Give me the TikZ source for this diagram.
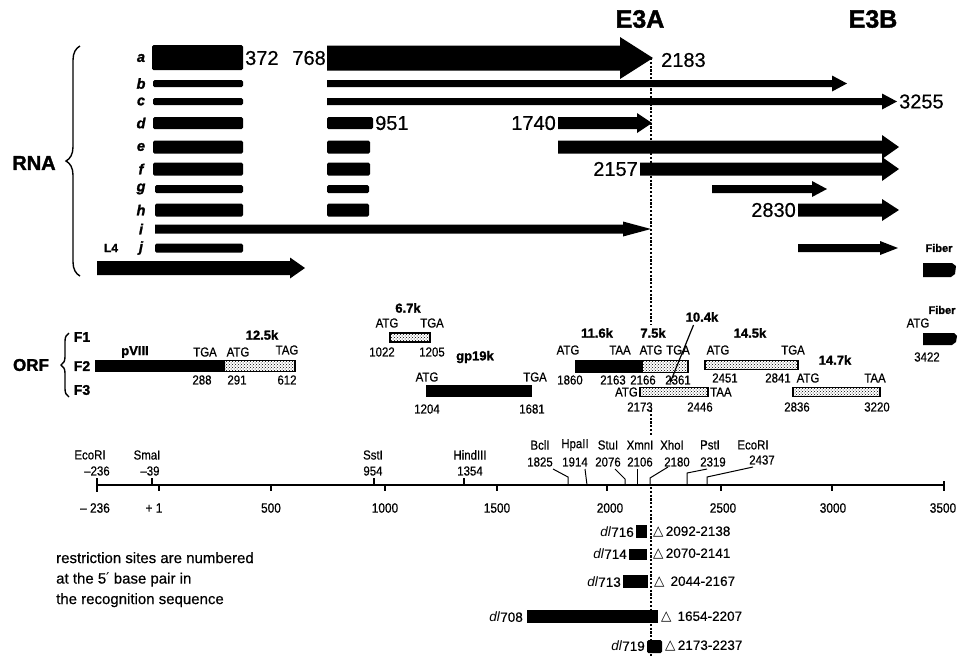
\documentclass[tikz,border=0pt]{standalone}
\usepackage{fontspec}
\setmainfont{Liberation Sans}[UprightFeatures={FakeBold=0.5},BoldFeatures={FakeBold=1.5},BoldItalicFeatures={FakeBold=1.5}]
\newfontfamily\lab{Liberation Sans}[FakeStretch=0.88,FakeBold=0.6]
\newfontfamily\djv{DejaVu Sans}
\usetikzlibrary{decorations.pathreplacing,patterns}
\newcommand{\fs}[1]{\fontsize{#1}{#1}\selectfont}
% x1 x2 y bodyhalf headhalf headlen
\newcommand{\myarrow}[6]{\fill (#1,{#3-#4}) -- ({#2-#6},{#3-#4}) -- ({#2-#6},{#3-#5}) -- (#2,#3) -- ({#2-#6},{#3+#5}) -- ({#2-#6},{#3+#4}) -- (#1,{#3+#4}) -- cycle;}
% x1 x2 y half
\newcommand{\mybar}[4]{\fill[rounded corners=1.5pt] (#1,{#3-#4}) rectangle (#2,{#3+#4});}
\begin{document}
\begin{tikzpicture}[x=1pt,y=-1pt,
  t/.style={inner sep=0pt,font=\lab\fs{13}},
  tb/.style={inner sep=0pt,font=\bfseries\fs{13}},
  big/.style={inner sep=0pt,font=\fs{20}},
  ax/.style={inner sep=0pt,font=\lab\fs{13.5}},
  dl/.style={inner sep=0pt,font=\fs{13.5}},
  lett/.style={inner sep=0pt,font=\bfseries\itshape\fs{14.5}},
  hdr/.style={inner sep=0pt,font=\bfseries\fs{25}},
  spk/.style={draw,line width=1.1pt,pattern=crosshatch dots,pattern color=black},
  dotl/.style={line width=2.6pt,dash pattern=on 2.2pt off 1.6pt},
  lead/.style={line width=1pt},
  brc/.style={line width=1.4pt,decorate}]
\useasboundingbox (0,0) rectangle (962,657);

% ---------- dotted E3A line ----------
\draw[dotl] (651,58) -- (651,325);
\draw[dotl] (651,410) -- (651,436);
\draw[dotl] (651,487) -- (651,657);

% ---------- headers ----------
\node[hdr] (e3a) at (640,19) {E3A};
\node[hdr] (e3b) at (873,19) {E3B};
\node[inner sep=0pt,font=\bfseries\fs{20}] (rna) at (34,163) {RNA};
\draw[brc,decoration={brace,amplitude=14pt}] (80,276) -- (80,46);

% ---------- RNA rows ----------
\foreach \l/\y in {a/58,b/83.5,c/101.5,d/123,e/147,f/169,g/189,h/210,i/229,j/248}
  \node[lett] (r\l) at (141,\y) {\l};

\mybar{152}{243}{57.5}{12.5}
\mybar{153}{243}{83.5}{3.5}
\mybar{153}{243}{101.5}{3.5}
\mybar{153}{243}{123}{6}
\mybar{153}{243}{147}{6.5}
\mybar{153}{243}{169}{6.5}
\mybar{155}{243}{189}{4}
\mybar{155}{243}{210}{6.5}
\mybar{155}{243}{248}{4.5}

\mybar{327}{373}{123}{6}
\mybar{327}{370}{147}{6.5}
\mybar{327}{370}{169}{6.5}
\mybar{327}{369}{189}{4}
\mybar{327}{369}{210}{6.5}

\myarrow{327}{653}{58}{12.5}{21}{33}
\myarrow{327}{847}{83.5}{3.5}{8}{15}
\myarrow{327}{897}{101.5}{3.5}{8}{15}
\myarrow{558}{652}{123}{6}{10}{15}
\myarrow{558}{899}{147}{6.5}{12}{17}
\myarrow{640}{899}{169}{6.5}{12}{17}
\myarrow{712}{827}{189}{4}{8}{15}
\myarrow{798}{899}{210}{6.5}{11}{17}
\myarrow{155}{651}{229}{4.5}{7.5}{28}
\myarrow{798}{898}{248}{4}{7}{18}
\myarrow{97}{305}{268}{7}{10.5}{15}

\node[big,anchor=west] (n372) at (245,58) {372};
\node[big,anchor=east] (n768) at (326,58) {768};
\node[big,anchor=west] (n2183) at (661,60) {2183};
\node[big,anchor=west] (n3255) at (899,101.5) {3255};
\node[big,anchor=west] (n951) at (375,123) {951};
\node[big,anchor=east] (n1740) at (556,123) {1740};
\node[big,anchor=east] (n2157) at (638,169) {2157};
\node[big,anchor=east] (n2830) at (796,210) {2830};
\node[inner sep=0pt,font=\bfseries\fs{12}] (l4) at (111,248) {L4};
\node[inner sep=0pt,font=\bfseries\fs{11}] (fib1) at (939,248) {Fiber};
\fill (923,263) -- (952,263) -- (956,266) -- (955,274) -- (951,277) -- (923,277) -- cycle;

% ---------- ORF ----------
\node[inner sep=0pt,font=\bfseries\fs{17}] (orf) at (31,365) {ORF};
\draw[brc,decoration={brace,amplitude=8pt}] (69,397) -- (69,333);
\node[inner sep=0pt,font=\bfseries\fs{14}] (f1) at (82,337) {F1};
\node[inner sep=0pt,font=\bfseries\fs{14}] (f2) at (82,366) {F2};
\node[inner sep=0pt,font=\bfseries\fs{14}] (f3) at (82,390) {F3};

% pVIII / 12.5k
\fill (95,360) rectangle (224,372);
\draw[spk] (224,360.5) rectangle (295,371.5);
\node[tb] (pviii) at (135,352) {pVIII};
\node[tb] (k125) at (262,335) {12.5k};
\node[t] (o1) at (205,352) {TGA};
\node[t] (o2) at (238,352) {ATG};
\node[t] (o3) at (287,350) {TAG};
\node[t] (o4) at (202,380) {288};
\node[t] (o5) at (237,380) {291};
\node[t] (o6) at (287,380) {612};

% 6.7k
\node[tb] (k67) at (408,308) {6.7k};
\node[t] (o7) at (387,323) {ATG};
\node[t] (o8) at (432,323) {TGA};
\draw[spk] (390,333) rectangle (430,342);
\node[t] (o9) at (382,352) {1022};
\node[t] (o10) at (432,352) {1205};

% gp19k
\node[tb] (gp19) at (475,357) {gp19k};
\node[t] (o11) at (427,377) {ATG};
\node[t] (o12) at (535,377) {TGA};
\fill (426,385) rectangle (532,397);
\node[t] (o13) at (427,409) {1204};
\node[t] (o14) at (532,409) {1681};

% 11.6k / 7.5k
\node[tb] (k116) at (597,333) {11.6k};
\node[tb] (k75) at (653,333) {7.5k};
\node[t] (o15) at (568,350) {ATG};
\node[t] (o16) at (620,350) {TAA};
\node[t] (o17) at (651,350) {ATG};
\node[t] (o18) at (678,350) {TGA};
\fill (575,360) rectangle (642,373);
\draw[spk] (642,360.5) rectangle (688,372.5);
\node[t] (o19) at (570,380) {1860};
\node[t] (o20) at (613,380) {2163};
\node[t] (o21) at (643,380) {2166};
\node[t] (o22) at (678,380) {2361};

% 10.4k
\node[tb] (k104) at (702,317) {10.4k};
\coordinate (p104) at (670,383);
\draw[line width=1.2pt,-stealth] (k104.south west) ++(8,3) -- (p104);

% F3 7.5k part
\node[t,anchor=east] (o23) at (638,392) {ATG};
\draw[spk] (640,387.5) rectangle (708,396.5);
\node[t,anchor=west] (o24) at (710,392) {TAA};
\node[t] (o25) at (640,407) {2173};
\node[t] (o26) at (700,407) {2446};

% 14.5k
\node[tb] (k145) at (750,333) {14.5k};
\node[t] (o27) at (718,350) {ATG};
\node[t] (o28) at (793,350) {TGA};
\draw[spk] (705,360.5) rectangle (798,369.5);
\node[t] (o29) at (725,378) {2451};
\node[t] (o30) at (778,378) {2841};

% 14.7k
\node[tb] (k147) at (835,360) {14.7k};
\node[t] (o31) at (808,378) {ATG};
\node[t] (o32) at (875,378) {TAA};
\draw[spk] (793,387.5) rectangle (880,396.5);
\node[t] (o33) at (797,407) {2836};
\node[t] (o34) at (877,407) {3220};

% Fiber ORF
\node[inner sep=0pt,font=\bfseries\fs{11}] (fib2) at (942,310) {Fiber};
\node[t] (o35) at (918,323) {ATG};
\fill (923,333) -- (954,333) -- (957,336) -- (956,342) -- (952,345) -- (923,345) -- cycle;
\node[t] (o36) at (927,357) {3422};

% ---------- restriction map ----------
\draw[line width=1.4pt] (97,485) -- (944,485);
\draw[line width=1.4pt] (97,478) -- (97,492);
\draw[line width=1.4pt] (944,481) -- (944,491);
\foreach \x in {159,271,385,497,607,721,832}
  \draw[line width=1.2pt] (\x,485) -- (\x,491);
\foreach \x in {152,374,464}
  \draw[line width=1.2pt] (\x,478) -- (\x,485);

\node[ax] (a1) at (95,508) {– 236};
\node[ax] (a2) at (154,508) {+ 1};
\node[ax] (a3) at (271,508) {500};
\node[ax] (a4) at (385,508) {1000};
\node[ax] (a5) at (497,508) {1500};
\node[ax] (a6) at (610,508) {2000};
\node[ax] (a7) at (723,508) {2500};
\node[ax] (a8) at (833,508) {3000};
\node[ax] (a9) at (943,508) {3500};

\node[t] (s1) at (90,455) {EcoRI};
\node[t] (s1n) at (97,471) {–236};
\node[t] (s2) at (147,455) {SmaI};
\node[t] (s2n) at (150,471) {–39};
\node[t] (s3) at (373,455) {SstI};
\node[t] (s3n) at (373,471) {954};
\node[t] (s4) at (470,455) {HindIII};
\node[t] (s4n) at (470,471) {1354};

\node[t] (s5) at (540,445) {BclI};
\node[t] (s5n) at (540,462) {1825};
\node[t] (s6) at (575,445) {HpaII};
\node[t] (s6n) at (575,462) {1914};
\node[t] (s7) at (608,445) {StuI};
\node[t] (s7n) at (608,462) {2076};
\node[t] (s8) at (640,445) {XmnI};
\node[t] (s8n) at (640,462) {2106};
\node[t] (s9) at (672,445) {XhoI};
\node[t] (s9n) at (677,462) {2180};
\node[t] (s10) at (710,445) {PstI};
\node[t] (s10n) at (713,462) {2319};
\node[t] (s11) at (753,445) {EcoRI};
\node[t] (s11n) at (762,460) {2437};

\draw[lead] (553,469) -- (568,477) -- (568,485);
\draw[lead] (585,469) -- (587,485);
\draw[lead] (615,469) -- (625,479) -- (625,485);
\draw[lead] (637,469) -- (637,485);
\draw[lead] (668,467) -- (650,478) -- (650,485);
\draw[lead] (707,469) -- (687,473) -- (687,485);
\draw[lead] (753,467) -- (707,477) -- (707,485);

% ---------- deletions ----------
\fill (636,525) rectangle (647,538);
\node[dl,anchor=east] (d1) at (634,532) {\textit{dl}716};
\node[dl,anchor=west] (d1t) at (653,532) {{\djv △}\,2092-2138};
\fill (629,549) rectangle (647,560);
\node[dl,anchor=east] (d2) at (627,554) {\textit{dl}714};
\node[dl,anchor=west] (d2t) at (653,554) {{\djv △}\,2070-2141};
\fill (623,575) rectangle (648,588);
\node[dl,anchor=east] (d3) at (621,582) {\textit{dl}713};
\node[dl,anchor=west] (d3t) at (654,582) {{\djv △}\ \,2044-2167};
\fill (527,610) rectangle (658,623);
\node[dl,anchor=east] (d4) at (523,617) {\textit{dl}708};
\node[dl,anchor=west] (d4t) at (661,617) {{\djv △}\ \,1654-2207};
\fill[rounded corners=1.5pt] (647,640) rectangle (662,653);
\node[dl,anchor=east] (d5) at (645,646) {\textit{dl}719};
\node[dl,anchor=west] (d5t) at (665,646) {{\djv △}\,2173-2237};

\node[inner sep=0pt,anchor=north west,align=left,font=\fs{15}] (note) at (56,552)
  {restriction sites are numbered\\[5.5pt]at the 5{\djv ′} base pair in\\[5.5pt]the recognition sequence};
\end{tikzpicture}
\end{document}
